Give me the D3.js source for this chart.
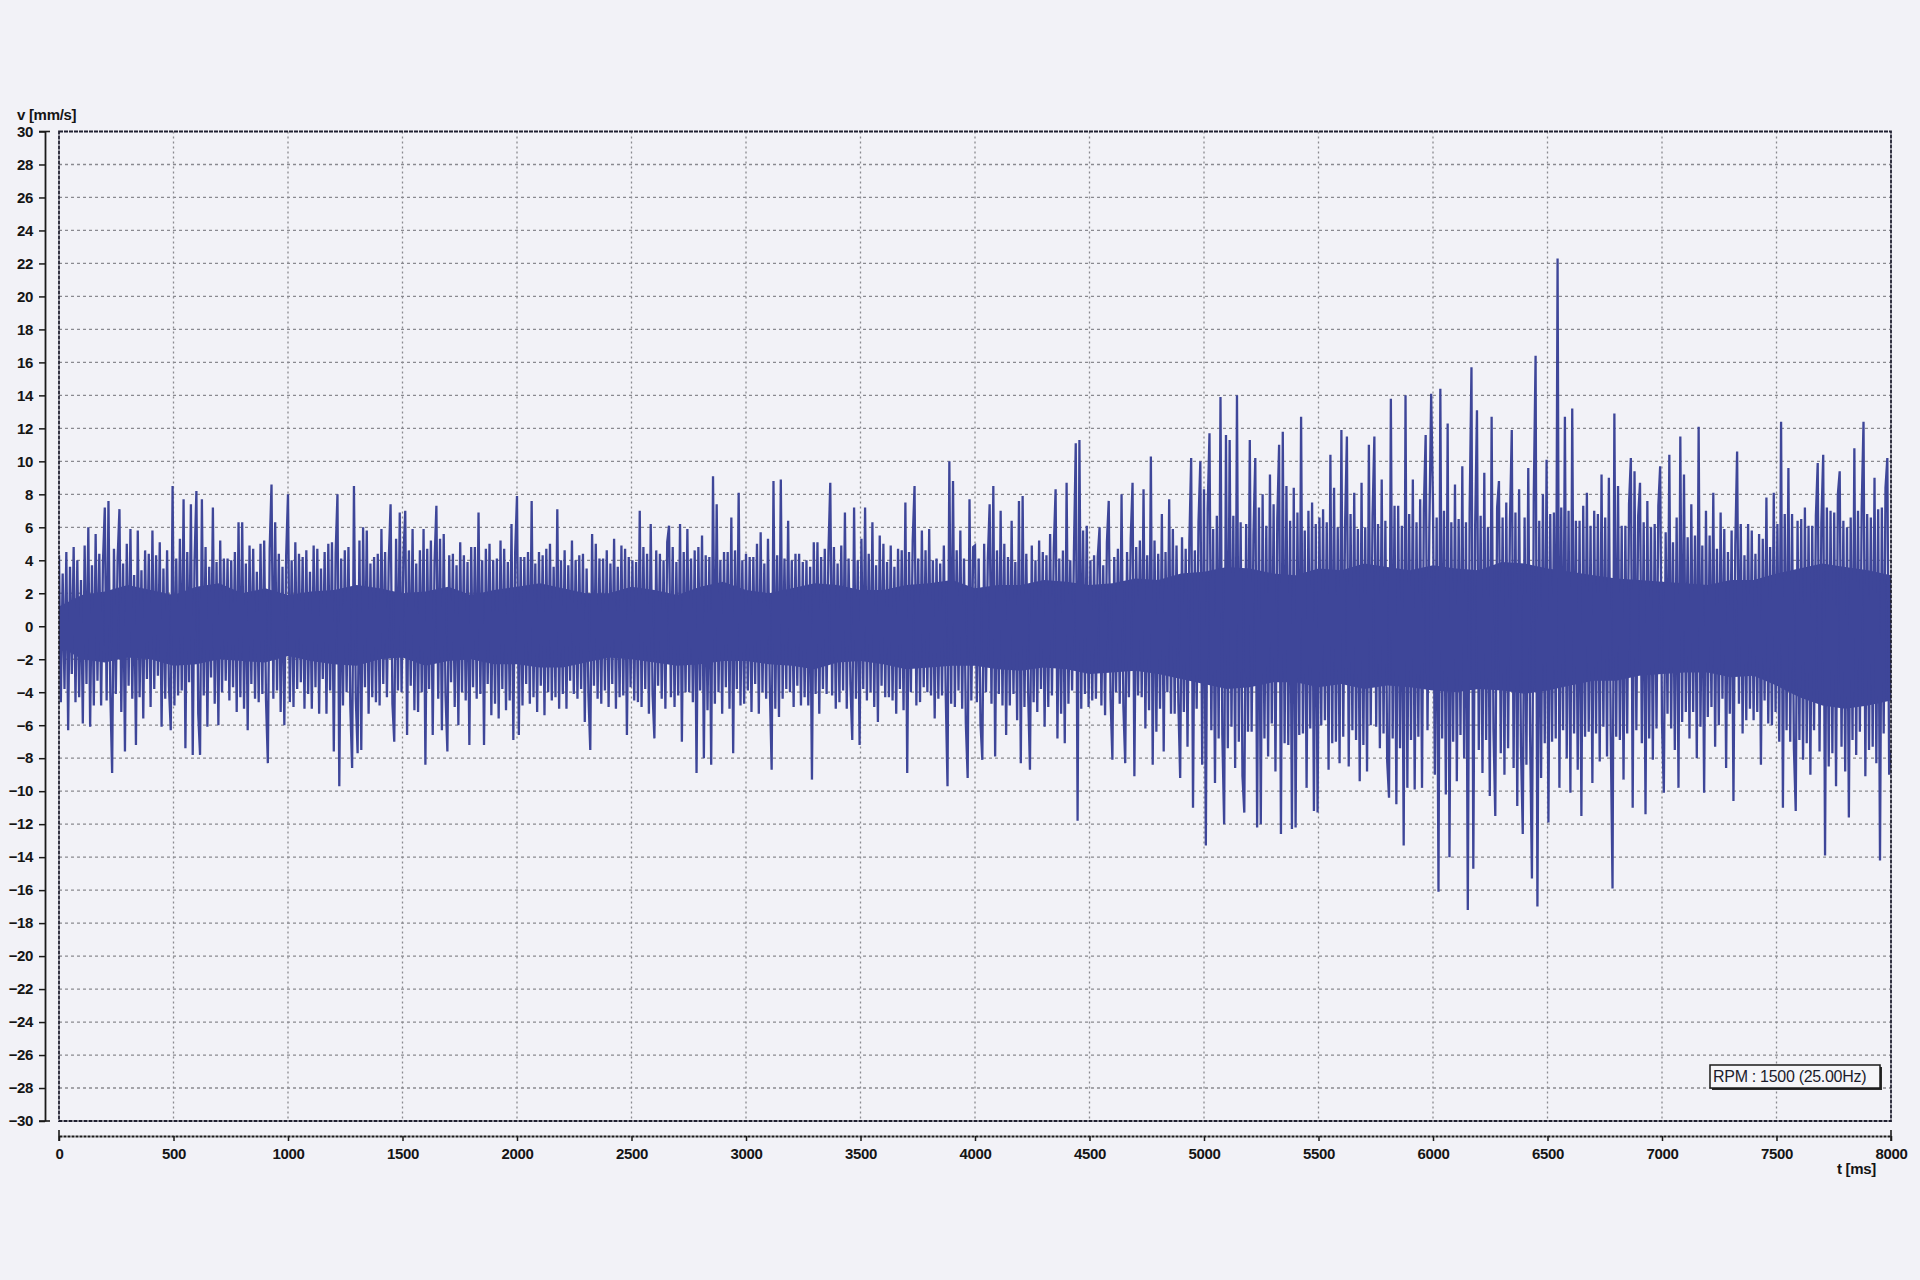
<!DOCTYPE html>
<html><head><meta charset="utf-8">
<script src="https://cdn.jsdelivr.net/npm/d3@7"></script>
<style>
html,body{margin:0;padding:0;background:#f2f2f7;}
svg{display:block;}
text{font-family:"Liberation Sans",Arial,sans-serif;}
</style>
</head><body>
<svg id="chart" width="1920" height="1280"></svg>
<script>
// ---- data: velocity extremes in mm/s, one array per second of record, every 8 ms ----
const velSec0 = [4.3,-4.6,3.2,-3.8,4.5,-6.3,3.6,-2.9,4.8,-4.6,4.0,-4.3,2.8,-5.9,4.9,-3.5,6.0,-6.1,3.7,-4.8,5.6,-3.3,4.4,-4.8,3.9,
7.2,-4.5,7.6,-4.0,-8.9,4.7,-4.1,4.1,7.1,-5.2,3.8,-7.6,5.0,-3.6,5.9,-4.4,3.1,-7.2,5.8,-4.3,3.4,-5.6,4.6,-3.2,4.4,
-4.9,5.8,-3.8,4.3,-3.0,5.1,-6.1,3.5,-4.4,4.6,-3.6,-6.3,8.5,-4.8,4.1,-4.2,5.3,-3.9,7.7,-7.4,4.5,-3.4,7.4,-7.8,4.0,
8.2,-5.3,-7.8,7.7,-4.2,4.8,-6.1,3.6,-3.1,7.2,-4.7,3.9,-6.0,5.2,-4.0,4.1,-3.3,4.1,-4.5,4.0,-3.7,4.5,-5.2,6.3,-4.3,
6.3,-5.0,3.8,-6.3,4.9,-3.5,4.7,-4.4,3.3,-4.6,5.0,-4.1,5.2,-4.5,-8.3,4.7,8.6,-4.4,6.3,-3.9,4.4,-5.2,3.6,-6.0,4.3];
const velSec1 = [8.0,-4.6,4.0,-4.9,5.1,-3.8,4.4,-3.4,4.2,-5.0,4.6,-4.1,3.3,-5.0,4.9,-3.7,4.7,-5.3,3.5,-3.2,4.5,-5.3,5.0,-3.9,5.1,
-7.6,4.4,8.0,-9.7,4.1,-4.8,4.6,-4.0,4.8,-4.8,-8.6,8.5,-4.4,-7.7,5.2,-7.5,6.0,-3.7,5.8,-5.3,3.8,-4.3,4.2,-4.6,4.4,
-4.8,5.9,-3.5,4.5,-4.3,4.0,7.4,-4.7,-7.0,5.3,-3.9,6.9,-4.0,4.2,7.0,-6.6,4.6,-3.6,5.9,-5.1,3.8,-5.2,4.6,-4.0,5.9,
-8.4,4.7,-3.8,5.2,-6.6,3.9,7.3,-4.4,5.3,-6.3,5.6,-4.2,-7.6,4.3,-3.4,4.4,-4.9,3.7,-6.0,5.1,-4.0,4.3,-4.5,3.9,-7.2,
4.8,-3.7,4.8,-4.4,6.9,-4.1,4.0,-7.2,4.7,-3.5,5.0,-5.4,4.0,-4.7,4.1,-5.6,5.2,-3.8,4.7,-5.1,3.9,-4.5,6.2,-6.9,4.5];
const velSec2 = [7.9,-6.6,4.2,-4.8,4.2,-3.5,4.5,-4.7,7.6,-4.3,3.8,-5.2,4.5,-3.6,4.3,-5.4,4.7,-4.0,5.0,-4.5,3.6,-4.3,7.1,-5.0,4.0,
-4.1,4.6,-5.0,3.7,-3.3,5.2,-4.1,4.0,-4.4,4.3,-3.8,4.4,-5.8,3.5,-4.2,-7.5,5.6,-3.6,5.0,-4.4,4.1,-4.7,4.1,-3.9,4.6,
-4.9,3.8,-3.5,5.3,-5.0,3.6,-4.3,4.9,-4.2,4.7,-6.6,4.2,-3.7,4.0,-4.5,3.9,-4.6,7.0,-4.9,4.8,-3.8,4.4,-5.3,6.2,-4.1,
-6.8,4.6,-3.6,4.4,-4.4,4.0,-5.0,5.1,6.1,-4.3,4.8,-4.9,3.9,-4.2,6.2,-7.0,4.5,-4.0,5.9,-4.0,4.1,-4.6,4.6,-8.9,4.8,
-3.9,5.5,-8.0,4.3,-5.1,4.2,-8.4,9.1,-4.7,7.4,-4.0,4.0,-5.3,4.5,-3.7,4.5,-5.0,6.6,-7.7,4.6,-3.8,8.1,-4.8,4.0,-4.7];
const velSec3 = [4.4,-3.9,4.2,-5.2,4.2,-3.5,5.0,-5.3,5.7,-4.0,3.8,-4.4,5.3,-3.7,-8.7,8.8,-5.0,4.3,-5.5,8.9,-4.4,4.1,-3.8,6.4,-4.0,
4.0,-4.9,4.4,-3.6,4.4,-4.8,3.9,-4.3,4.0,-4.8,3.6,-9.3,5.1,-4.1,5.1,-5.3,4.2,-3.8,4.7,-4.1,4.5,8.7,-4.2,4.8,-5.0,
3.8,-4.6,4.9,-3.9,6.9,-5.0,4.1,-3.5,-6.9,7.2,-4.4,4.0,-7.2,5.3,-3.8,7.2,-4.5,4.4,-4.0,6.3,-4.9,3.7,-5.8,5.5,-3.6,
5.0,-4.3,3.9,-4.3,4.9,-4.5,3.6,-5.3,4.7,-3.8,4.6,-5.1,7.5,-8.9,4.5,-4.0,5.2,8.5,-4.8,4.1,-4.6,5.8,-3.7,4.6,-4.0,
5.9,-4.2,4.0,-5.6,4.1,-4.4,3.8,-4.2,4.9,-4.0,-9.7,10.0,-4.7,8.8,-4.9,4.6,-3.9,5.8,-5.0,4.1,-5.9,-9.2,7.7,-4.5,4.8];
const velSec4 = [4.9,-4.6,4.1,-5.9,-8.1,5.0,-4.0,4.1,7.4,-4.7,8.5,-7.9,4.6,-4.1,7.0,-4.8,5.0,-6.6,4.2,-4.8,6.4,-4.1,3.9,-5.7,7.6,
-8.3,7.9,-4.9,4.4,-4.0,-8.7,4.9,-4.6,4.0,-5.2,5.2,-3.8,4.5,-6.1,4.3,-4.9,5.6,-4.2,4.7,8.3,-6.8,4.1,-5.3,4.6,-7.1,
8.7,-4.7,4.0,-3.9,4.5,11.1,-11.8,11.3,-5.0,5.8,-4.1,6.1,-4.9,4.0,-4.5,4.3,-4.4,4.2,6.0,-4.8,3.7,-5.4,5.1,7.6,-4.4,
-8.1,4.2,-4.0,4.7,-4.7,8.0,-4.9,-8.3,4.5,-4.3,5.3,8.7,-9.1,4.8,-4.2,5.2,-4.3,8.3,-6.2,4.3,-5.1,10.3,-8.4,5.2,-6.4,
4.4,-5.0,6.8,-7.6,4.5,-4.0,7.7,-5.3,5.9,-5.3,4.9,-4.6,-9.2,5.4,-5.2,4.7,-7.3,5.1,10.2,-11.0,4.6,-5.0,6.3,10.0,-8.4];
const velSec5 = [8.3,-13.3,7.1,11.7,-6.3,5.9,-9.5,6.7,-6.8,13.9,-6.6,-12.0,11.6,-7.4,11.3,-6.1,6.7,-8.6,14.0,-7.0,6.3,-9.1,-11.3,6.2,-6.4,
11.3,-6.4,5.6,10.2,-12.2,7.2,-12.0,8.0,-6.8,6.1,-7.9,9.2,-5.9,7.4,-8.8,6.5,11.0,-12.6,11.8,-7.1,8.5,-7.2,6.4,-12.3,8.4,
-12.2,6.9,-6.6,12.7,-6.5,5.8,-9.8,7.0,-6.2,7.5,-11.2,6.2,-11.3,6.6,-6.0,7.1,-5.7,6.3,-8.7,10.4,-7.1,8.4,-7.0,6.0,-8.3,
11.9,-6.7,6.1,11.5,-8.5,6.8,-6.3,8.1,-6.9,5.9,-9.4,8.7,-7.2,6.0,-8.8,11.0,-6.0,6.7,11.5,-6.1,6.2,-7.4,8.9,-6.5,6.4,
-8.2,-10.4,13.8,-6.8,7.3,-10.8,7.3,-7.4,6.1,-13.3,14.0,-9.8,6.8,-6.9,8.9,-9.9,6.3,-6.7,7.7,-9.8,7.1,11.6,-6.3,5.9,14.1];
const velSec6 = [7.4,-9.0,6.6,-16.1,14.4,-6.8,7.0,-10.2,12.3,-14.0,6.3,-7.0,8.6,-9.4,6.5,-6.6,9.7,-8.0,6.3,-17.2,6.9,15.7,-14.7,6.0,13.1,
-7.5,6.7,-8.9,9.3,-6.9,6.0,-10.3,12.7,-6.2,-11.5,7.2,8.8,-7.7,6.6,-9.0,7.5,-7.4,6.3,11.9,-8.6,6.9,-10.9,8.3,-7.3,-12.6,
6.6,-8.4,9.6,-6.6,-15.3,7.8,16.4,-17.0,6.4,-9.2,8.0,-7.1,10.1,-11.9,6.8,-7.0,6.9,-6.8,22.3,-9.8,7.2,-6.3,12.7,-8.0,7.0,
-10.1,13.2,-6.5,6.4,-8.7,6.4,-11.5,7.3,-6.7,8.1,-6.4,6.1,-9.5,7.0,-6.5,6.8,-8.2,9.2,-6.1,6.6,-7.9,9.0,-6.3,-15.9,12.9,
-6.7,8.5,-6.9,6.1,-9.3,6.1,-6.5,7.4,10.2,-11.0,9.4,-6.3,6.7,8.7,-7.1,6.3,-11.4,7.6,-6.8,6.0,-8.1,6.2,-6.2,7.3,9.7];
const velSec7 = [-5.9,-10.1,5.7,-5.3,10.4,-6.2,5.1,-7.5,6.6,-9.8,11.5,-5.8,9.2,-5.2,5.4,-6.8,7.4,-5.2,5.5,-8.0,12.1,-6.1,4.9,-10.1,7.0,
-5.5,5.5,-4.9,8.1,-7.3,4.7,-6.0,6.9,-4.4,5.9,-8.6,4.5,-5.3,5.8,-10.6,4.9,10.6,-4.7,6.2,-6.5,4.3,-5.7,6.2,-5.0,5.8,
-5.7,4.4,-5.2,5.6,-8.4,5.3,-4.5,7.8,-5.9,4.8,-6.0,8.1,-5.2,6.2,-7.0,12.4,-11.0,6.8,-6.3,9.6,-7.0,6.8,-7.4,-11.2,6.4,
-6.9,6.5,-8.1,7.2,-7.1,6.1,-9.0,6.1,-6.3,6.7,9.9,-7.6,6.3,10.4,-13.9,7.2,-8.5,7.0,-7.7,6.9,-9.7,8.0,9.4,-7.3,6.4,
-8.8,6.0,-11.6,6.6,-6.9,10.8,-7.8,7.0,-6.4,7.1,12.4,-9.1,6.8,-7.5,6.6,-7.3,9.0,-8.3,7.1,-14.2,7.2,-6.5,8.4,10.2,-9.0,-7.5];

// solid (densely overdrawn) core of the trace, read every 100 ms from 0 to 8000 ms
const coreStepMs = 100;
const coreUpper = [1.2,1.9,2.1,2.5,2.2,1.9,2.4,2.6,2.0,2.3,
  1.9,2.1,2.2,2.5,2.3,2.0,2.1,2.4,1.9,2.2,
  2.4,2.6,2.3,2.0,2.0,2.4,2.2,1.9,2.4,2.7,
  2.2,2.0,2.3,2.6,2.5,2.2,2.2,2.5,2.6,2.8,
  2.3,2.5,2.5,2.8,2.7,2.5,2.6,2.9,2.8,3.2,
  3.3,3.6,3.5,3.2,3.1,3.5,3.4,3.8,3.6,3.4,
  3.7,3.5,3.4,3.9,3.8,3.5,3.3,3.1,2.9,2.8,
  2.7,2.6,2.5,2.8,2.8,3.2,3.5,3.8,3.6,3.4,
  3.1];
const coreLower = [-1.2,-2.0,-2.2,-1.9,-2.0,-2.4,-2.3,-2.0,-2.1,-2.2,
  -1.8,-2.1,-2.3,-2.4,-2.0,-1.9,-2.4,-2.1,-2.0,-2.3,
  -2.3,-2.5,-2.5,-2.2,-1.9,-2.0,-2.2,-2.4,-2.3,-2.1,
  -2.1,-2.3,-2.4,-2.6,-2.2,-2.1,-2.3,-2.6,-2.5,-2.4,
  -2.4,-2.6,-2.7,-2.5,-2.6,-2.9,-2.8,-2.7,-2.9,-3.2,
  -3.5,-3.8,-3.7,-3.4,-3.4,-3.7,-3.5,-3.8,-3.6,-3.7,
  -3.9,-4.0,-3.8,-3.9,-4.1,-3.9,-3.6,-3.3,-3.3,-3.0,
  -2.9,-2.8,-2.8,-3.1,-3.0,-3.6,-4.3,-4.8,-5.0,-4.8,
  -4.5];

const xTicks = [0,500,1000,1500,2000,2500,3000,3500,4000,4500,5000,5500,6000,6500,7000,7500,8000];
const yTicks = [-30,-28,-26,-24,-22,-20,-18,-16,-14,-12,-10,-8,-6,-4,-2,0,2,4,6,8,10,12,14,16,18,20,22,24,26,28,30];
const xDomain = [0, 8000];
const yDomain = [-30, 30];
const yAxisTitle = "v [mm/s]";
const xAxisTitle = "t [ms]";
const rpmLabel = "RPM : 1500 (25.00Hz)";

// ---- layout ----
const velocity = [].concat(velSec0, velSec1, velSec2, velSec3, velSec4, velSec5, velSec6, velSec7);
const dt = (xDomain[1] - xDomain[0]) / (velocity.length - 1);
const L = 59, R = 1891, T = 131.5, B = 1121;
const x = d3.scaleLinear().domain(xDomain).range([L, R]);
const y = d3.scaleLinear().domain(yDomain).range([B, T]);
const traceColor = "#3e4699";

const svg = d3.select("#chart");
svg.append("rect").attr("width", 1920).attr("height", 1280).attr("fill", "#f2f2f7");

// grid
const grid = svg.append("g");
grid.selectAll("line.h").data(yTicks.filter(v => v > yDomain[0] && v < yDomain[1])).join("line")
  .attr("x1", L).attr("x2", R).attr("y1", d => y(d)).attr("y2", d => y(d))
  .attr("stroke", "#8a8a90").attr("stroke-width", 1.3).attr("stroke-dasharray", "3,3");
grid.selectAll("line.v").data(xTicks.filter(v => v > xDomain[0] && v < xDomain[1])).join("line")
  .attr("y1", T).attr("y2", B).attr("x1", d => x(d)).attr("x2", d => x(d))
  .attr("stroke", "#8a8a90").attr("stroke-width", 1.3).attr("stroke-dasharray", "2,3");

// signal
svg.append("clipPath").attr("id", "plotclip").append("rect")
  .attr("x", L).attr("y", T).attr("width", R - L).attr("height", B - T);
const plot = svg.append("g").attr("clip-path", "url(#plotclip)");
const core = coreUpper.map((hi, i) => ({t: i * coreStepMs, hi, lo: coreLower[i]}));
plot.append("path").datum(core)
  .attr("fill", traceColor)
  .attr("d", d3.area().x(d => x(d.t)).y0(d => y(d.lo)).y1(d => y(d.hi)));
const line = d3.line().x((d, i) => x(i * dt)).y(d => y(d));
plot.append("path").datum(velocity)
  .attr("fill", "none").attr("stroke", traceColor).attr("stroke-width", 2.3)
  .attr("stroke-linejoin", "miter").attr("d", line);

// frame
svg.append("rect").attr("x", L).attr("y", T).attr("width", R - L).attr("height", B - T)
  .attr("fill", "none").attr("stroke", "#202030").attr("stroke-width", 1.8).attr("stroke-dasharray", "4,1");

// y axis
const yAxisX = 45;
const yAx = svg.append("g").attr("transform", `translate(${yAxisX},0)`)
  .call(d3.axisLeft(y).tickValues(yTicks).tickSize(6).tickPadding(6).tickSizeOuter(0));
yAx.select(".domain").attr("stroke", "#1a1a1a").attr("stroke-width", 1.8);
yAx.selectAll(".tick line").attr("stroke", "#1a1a1a").attr("stroke-width", 1.5);
yAx.selectAll(".tick text").attr("font-size", 15).attr("font-weight", "bold").attr("fill", "#151515")
  .attr("font-family", "'Liberation Sans',Arial,sans-serif").attr("letter-spacing", "-0.4");
[yDomain[0], yDomain[1]].forEach(v => {
  svg.append("line").attr("x1", yAxisX - 6).attr("x2", yAxisX + 5).attr("y1", y(v)).attr("y2", y(v))
    .attr("stroke", "#1a1a1a").attr("stroke-width", 1.6);
});

// x axis
const xAxisY = 1136;
const xAx = svg.append("g").attr("transform", `translate(0,${xAxisY})`)
  .call(d3.axisBottom(x).tickValues(xTicks).tickFormat(d3.format("d")).tickSize(5).tickPadding(7).tickSizeOuter(0));
xAx.select(".domain").attr("stroke", "#1a1a1a").attr("stroke-width", 2).attr("stroke-dasharray", "3,1");
xAx.selectAll(".tick line").attr("stroke", "#1a1a1a").attr("stroke-width", 1.5);
xAx.selectAll(".tick text").attr("font-size", 15).attr("font-weight", "bold").attr("fill", "#151515")
  .attr("font-family", "'Liberation Sans',Arial,sans-serif").attr("letter-spacing", "-0.4");
[xDomain[0], xDomain[1]].forEach(v => {
  svg.append("line").attr("x1", x(v)).attr("x2", x(v)).attr("y1", xAxisY - 6).attr("y2", xAxisY + 5)
    .attr("stroke", "#1a1a1a").attr("stroke-width", 1.6);
});

// titles
svg.append("text").attr("x", 17).attr("y", 120).text(yAxisTitle)
  .attr("font-size", 15).attr("font-weight", "bold").attr("fill", "#151515").attr("letter-spacing", "-0.3");
svg.append("text").attr("x", 1876).attr("y", 1174).attr("text-anchor", "end").text(xAxisTitle)
  .attr("font-size", 15).attr("font-weight", "bold").attr("fill", "#151515").attr("letter-spacing", "-0.3");

// RPM box
const bx = 1710, by = 1065, bw = 170, bh = 23;
svg.append("rect").attr("x", bx + 2).attr("y", by + 2).attr("width", bw).attr("height", bh).attr("fill", "#2a2a2a");
svg.append("rect").attr("x", bx).attr("y", by).attr("width", bw).attr("height", bh)
  .attr("fill", "#f5f5f8").attr("stroke", "#1a1a1a").attr("stroke-width", 1.5);
svg.append("text").attr("x", bx + 3).attr("y", by + 17).text(rpmLabel)
  .attr("font-size", 16).attr("fill", "#1c1c2c").attr("letter-spacing", "-0.3");
</script>
</body></html>
